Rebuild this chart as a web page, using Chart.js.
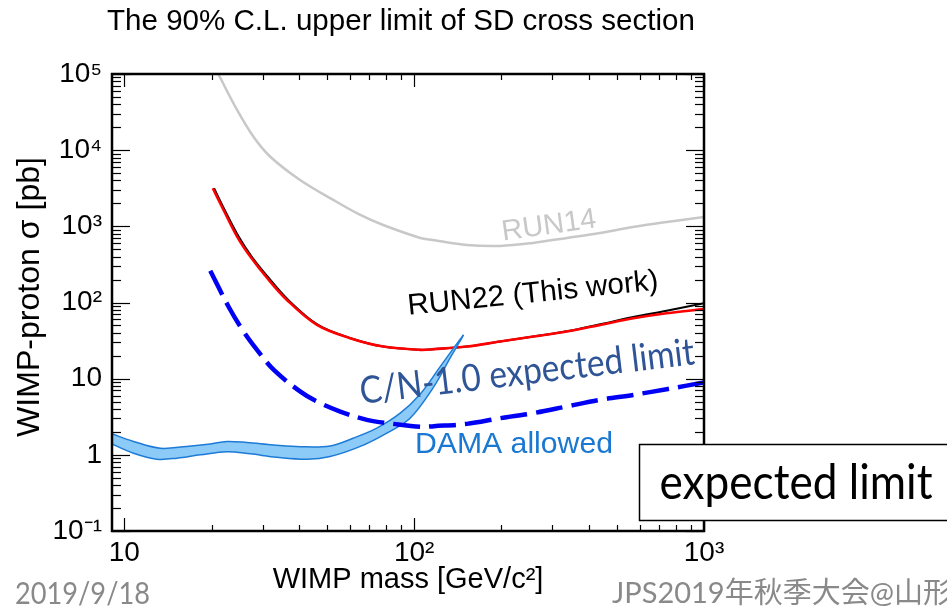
<!DOCTYPE html>
<html><head><meta charset="utf-8">
<script src="https://cdn.jsdelivr.net/npm/chart.js@4.4.1/dist/chart.umd.min.js"></script>
<style>html,body{margin:0;padding:0;background:#fff;overflow:hidden}</style>
</head><body>
<canvas id="c" width="947" height="607"></canvas>
<script>
// ---- data ----
const xTickValues = [10, 100, 1000];
const xTickLabels = ['10', '10²', '10³'];
const yTickValues = [0.1, 1, 10, 100, 1000, 1e4, 1e5];
const yTickLabels = ['10⁻¹', '1', '10', '10²', '10³', '10⁴', '10⁵'];

const run14Mass  = [19.9, 21.1, 24.5, 27.9, 31.9, 40.4, 52.6, 65.2, 78.2, 105, 116, 152, 198, 257, 337, 438, 569, 745, 1000];
const run14Sigma = [1.53e5, 1.0e5, 3.37e4, 1.5e4, 8200, 4060, 2220, 1410, 1040, 704, 663, 570, 553, 606, 705, 819, 981, 1143, 1327];

const run22Mass  = [20.2, 22.0, 24.5, 27.2, 31.0, 36.4, 46.2, 60.1, 78.3, 105, 117, 152, 198, 258, 336, 438, 570, 743, 1000];
const run22Sigma = [3160, 1640, 733, 401, 213, 108, 50.8, 34, 26.4, 23.9, 24.4, 26.4, 30.7, 35.7, 41.6, 50.8, 62.2, 72.4, 82];

const run22BlackMass  = [20.4, 22.2, 24.8, 27.5, 31.4, 36.8, 46.6, 60.5, 78.3, 105, 117, 152, 198, 258, 336, 438, 570, 743, 1000];
const run22BlackSigma = [3160, 1640, 733, 401, 213, 108, 50.8, 34, 26.4, 23.9, 24.4, 26.4, 30.7, 35.7, 41.8, 51.8, 64.5, 78, 98];

const expectedMass  = [19.8, 22.9, 25.8, 28.7, 32.8, 40.4, 46.2, 55.6, 68.7, 84.9, 105, 117, 152, 198, 258, 336, 438, 570, 743, 1000];
const expectedSigma = [262, 88, 41.5, 23.9, 13.0, 6.8, 5.0, 3.7, 2.88, 2.55, 2.33, 2.38, 2.55, 3.03, 3.53, 4.31, 5.27, 6.12, 7.28, 8.9];

const damaUpperMass  = [8.8, 9.07, 10.76, 13.3, 16.4, 19.8, 22.6, 26.5, 32.7, 40.5, 51.3, 61.8, 74.3, 89.5, 105, 123, 138, 148];
const damaUpperSigma = [1.98, 1.89, 1.50, 1.22, 1.29, 1.39, 1.50, 1.45, 1.35, 1.28, 1.31, 1.66, 2.24, 3.52, 6.3, 14.4, 26.3, 37.6];

const damaLowerMass  = [8.8, 9.07, 10.76, 12.97, 15.2, 18.3, 22.6, 27.2, 33.6, 42.7, 51.3, 65.2, 80.5, 96.8, 117, 133, 146, 148];
const damaLowerSigma = [1.5, 1.39, 1.05, 0.877, 0.905, 1.0, 1.10, 1.03, 0.93, 0.877, 0.95, 1.29, 1.93, 3.03, 7.87, 18.6, 34, 37.6];

const pts = (xs, ys) => xs.map((x, i) => ({x: x, y: ys[i]}));
const labelFor = (v, vals, labs) => {
  const i = vals.findIndex(t => Math.abs(Math.log10(t) - Math.log10(v)) < 1e-6);
  return i >= 0 ? labs[i] : '';
};

const HELV = "'Liberation Sans', Arial, Helvetica, sans-serif";
const CALI = "Lato, 'Noto Sans CJK JP', sans-serif";

// inward ticks + frame
const frameTicks = {
  id: 'frameTicks',
  afterDatasetsDraw(chart) {
    const {ctx, chartArea: {left, right, top, bottom}, scales: {x, y}} = chart;
    ctx.save();
    ctx.strokeStyle = '#000';
    ctx.lineWidth = 1.2;
    const line = (a, b, c, d) => { ctx.beginPath(); ctx.moveTo(a, b); ctx.lineTo(c, d); ctx.stroke(); };
    for (let e = -1; e <= 5; e++) {
      for (let k = 1; k <= 9; k++) {
        const v = k * Math.pow(10, e);
        if (v < y.min * 0.999 || v > y.max * 1.001) continue;
        const py = Math.round(y.getPixelForValue(v)) + 0.5;
        const len = k === 1 ? 18 : 9;
        line(left, py, left + len, py);
        line(right, py, right - len, py);
      }
    }
    for (let e = 0; e <= 3; e++) {
      for (let k = 1; k <= 9; k++) {
        const v = k * Math.pow(10, e);
        if (v < x.min * 0.999 || v > x.max * 1.001) continue;
        const px = Math.round(x.getPixelForValue(v)) + 0.5;
        const len = k === 1 ? 13 : 6;
        line(px, bottom, px, bottom - len);
        line(px, top, px, top + len);
      }
    }
    ctx.lineWidth = 2.5;
    ctx.strokeRect(left, top, right - left, bottom - top);
    ctx.restore();
  }
};

// draws text fitted to a target width; k>1 makes glyphs taller and squeezes them horizontally
function drawFitText(ctx, text, family, color, cx, cy, width, angleDeg, align, k) {
  k = k || 1;
  ctx.save();
  ctx.font = '40px ' + family;
  const w = ctx.measureText(text).width;
  const size = 40 * width / w * k;
  ctx.font = size.toFixed(2) + 'px ' + family;
  ctx.fillStyle = color;
  ctx.textAlign = align || 'center';
  ctx.textBaseline = 'middle';
  ctx.translate(cx, cy);
  ctx.rotate(angleDeg * Math.PI / 180);
  ctx.scale(1 / k, 1);
  ctx.fillText(text, 0, 0);
  ctx.restore();
  return size;
}

const annotations = {
  id: 'annotations',
  afterDraw(chart) {
    const ctx = chart.ctx;
    drawFitText(ctx, 'The 90% C.L. upper limit of SD cross section', HELV, '#000', 401, 22, 588, 0);
    drawFitText(ctx, 'WIMP-proton σ [pb]', HELV, '#000', 30, 297, 280, -90);
    drawFitText(ctx, 'RUN14', HELV, '#c8c8c8', 549, 226, 95, -7.9);
    drawFitText(ctx, 'RUN22 (This work)', HELV, '#000', 533, 294, 252, -5.8);
    drawFitText(ctx, 'C/N-1.0 expected limit', CALI, '#2f5597', 527, 372, 337, -6.8, 'center', 1.13);
    drawFitText(ctx, 'DAMA allowed', HELV, '#1a78d2', 514, 445, 198, 0);
    // box
    ctx.save();
    ctx.fillStyle = '#fff';
    ctx.fillRect(639, 444, 320, 76);
    ctx.strokeStyle = '#000';
    ctx.lineWidth = 1.5;
    ctx.strokeRect(639.5, 444.5, 320, 76);
    ctx.restore();
    drawFitText(ctx, 'expected limit', CALI, '#000', 796, 484, 273, 0, 'center', 1.08);
    // footer
    drawFitText(ctx, '2019/9/18', CALI, '#898989', 15, 594, 135, 0, 'left', 1.12);
    ctx.save();
    ctx.font = '29px ' + CALI;
    ctx.fillStyle = '#898989';
    ctx.textAlign = 'left';
    ctx.textBaseline = 'middle';
    ctx.fillText('JPS2019年秋季大会@山形大学', 612, 594);
    ctx.restore();
  }
};

new Chart(document.getElementById('c'), {
  type: 'line',
  data: {
    datasets: [
      { label: 'C/N-1.0 expected limit', data: pts(expectedMass, expectedSigma), borderColor: '#0000f5', borderWidth: 4.5,
        borderDash: [27, 9], order: 1 },
      { label: 'DAMA allowed (lower)', data: pts(damaLowerMass, damaLowerSigma), borderColor: '#1d7bd6', borderWidth: 1.5, order: 2 },
      { label: 'DAMA allowed', data: pts(damaUpperMass, damaUpperSigma), borderColor: '#1d7bd6', borderWidth: 1.5,
        backgroundColor: '#8ccaf7', fill: 1, order: 3 },
      { label: 'RUN22 (This work)', data: pts(run22Mass, run22Sigma), borderColor: '#ff0000', borderWidth: 2.6, order: 4 },
      { label: 'RUN22 observed', data: pts(run22BlackMass, run22BlackSigma), borderColor: '#000000', borderWidth: 2, order: 5 },
      { label: 'RUN14', data: pts(run14Mass, run14Sigma), borderColor: '#c8c8c8', borderWidth: 2.5, order: 6 }
    ]
  },
  options: {
    responsive: false,
    animation: false,
    devicePixelRatio: 1,
    elements: {
      point: { radius: 0, hoverRadius: 0 },
      line: { tension: 0.35, fill: false, borderJoinStyle: 'round' }
    },
    layout: { padding: { left: 0, top: 74, right: 243, bottom: 0 } },
    plugins: { legend: { display: false }, tooltip: { enabled: false }, title: { display: false } },
    scales: {
      x: {
        type: 'logarithmic', min: 9.07, max: 1000, position: 'bottom',
        grid: { display: false, drawTicks: false }, border: { display: false },
        afterBuildTicks: (s) => { s.ticks = xTickValues.map(v => ({value: v})); },
        afterFit: (s) => { s.height = 76; },
        ticks: { autoSkip: false, maxRotation: 0, minRotation: 0, padding: 5, color: '#000',
          font: { family: HELV, size: 28 },
          callback: (v) => labelFor(v, xTickValues, xTickLabels) },
        title: { display: true, text: 'WIMP mass [GeV/c²]', color: '#000',
          font: { family: HELV, size: 29 }, padding: { top: 0, bottom: 10 } }
      },
      y: {
        type: 'logarithmic', min: 0.1, max: 1e5, position: 'left',
        grid: { display: false, drawTicks: false }, border: { display: false },
        afterBuildTicks: (s) => { s.ticks = yTickValues.map(v => ({value: v})); },
        afterFit: (s) => { s.width = 112; },
        ticks: { autoSkip: false, padding: 10, color: '#000',
          font: { family: HELV, size: 28 },
          callback: (v) => labelFor(v, yTickValues, yTickLabels) },
        title: { display: false }
      }
    }
  },
  plugins: [frameTicks, annotations]
});
</script>
</body></html>
